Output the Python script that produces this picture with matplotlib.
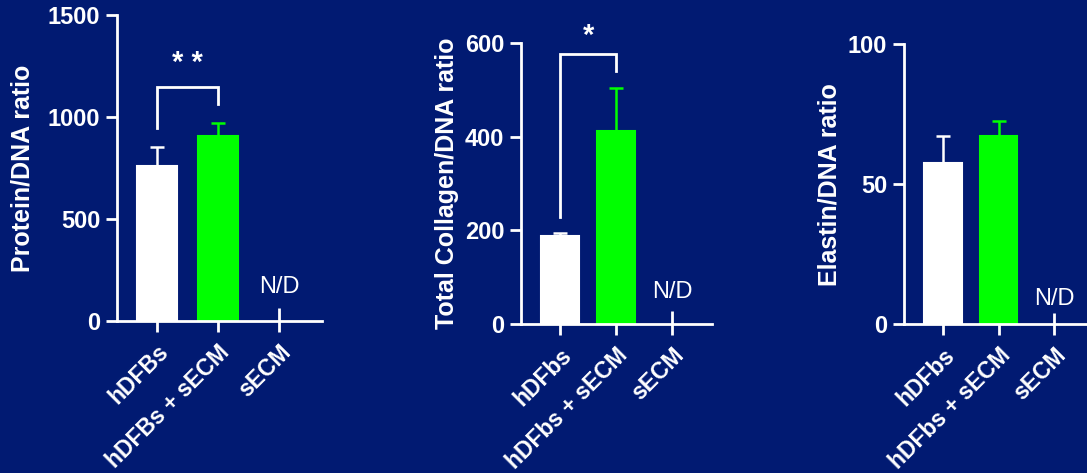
import numpy as np
import matplotlib.pyplot as plt

plt.rcParams['font.family'] = ['Liberation Sans', 'DejaVu Sans']

BG = '#011a72'
GREEN = '#00ff00'
WHITE = '#ffffff'

groups_protein = ['hDFBs', 'hDFBs + sECM', 'sECM']
groups_other = ['hDFbs', 'hDFbs + sECM', 'sECM']

protein_mean = [761, 905, 0]
protein_err = [92, 65, 64]

collagen_mean = [188, 412, 0]
collagen_err = [6, 92, 28]

elastin_mean = [57.7, 67.1, 0]
elastin_err = [9.4, 5.6, 3.9]

fig = plt.figure(figsize=(10.87, 4.73), dpi=100, facecolor=BG)

panels = [
    dict(rect=[0.1076, 0.3214, 0.1886, 0.6469], xlim=(-0.656, 2.705),
         ylim=1500, ticks=[0, 500, 1000, 1500], label='Protein/DNA ratio',
         label_x=-0.40,
         mean=protein_mean, err=protein_err, names=groups_protein,
         nd=167, sig='* *', bracket=(1146, 945, 1062), star_y=1265),
    dict(rect=[0.4793, 0.3144, 0.1757, 0.5953], xlim=(-0.696, 2.71),
         ylim=600, ticks=[0, 200, 400, 600], label='Total Collagen/DNA ratio',
         label_x=-0.325,
         mean=collagen_mean, err=collagen_err, names=groups_other,
         nd=69, sig='*', bracket=(577, 229, 540), star_y=615),
    dict(rect=[0.8316, 0.3144, 0.1684, 0.592], xlim=(-0.70, 2.59),
         ylim=100, ticks=[0, 50, 100], label='Elastin/DNA ratio',
         label_x=-0.339,
         mean=elastin_mean, err=elastin_err, names=groups_other,
         nd=8.9, sig=None, bracket=None, star_y=None),
]

x = np.arange(3)
colors = [WHITE, GREEN, WHITE]

for p in panels:
    ax = fig.add_axes(p['rect'])
    ax.set_facecolor(BG)
    ax.patch.set_alpha(0)

    # first two groups are bars, sECM was not detected
    for i in range(2):
        ax.bar(x[i], p['mean'][i], width=0.67, color=colors[i],
               edgecolor=colors[i], linewidth=1.5, zorder=2)
        ax.errorbar(x[i], p['mean'][i], yerr=[[0], [p['err'][i]]],
                    ecolor=colors[i], elinewidth=1.8, capsize=5,
                    capthick=1.8, fmt='none', zorder=3)
    ax.errorbar(x[2], p['mean'][2], yerr=[[0], [p['err'][2]]],
                ecolor=WHITE, elinewidth=2, capsize=0, fmt='none',
                zorder=3, clip_on=False)
    ax.text(x[2], p['nd'], 'N/D', color=WHITE, fontsize=17,
            ha='center', va='center')

    if p['bracket'] is not None:
        top, left_end, right_end = p['bracket']
        ax.plot([x[0], x[0], x[1], x[1]], [left_end, top, top, right_end],
                color=WHITE, lw=2, clip_on=False, solid_joinstyle='miter')
        ax.text((x[0] + x[1]) / 2, p['star_y'], p['sig'], color=WHITE,
                fontsize=21, fontweight='bold', ha='center', va='center')

    ax.set_xlim(*p['xlim'])
    ax.set_ylim(0, p['ylim'])
    ax.set_yticks(p['ticks'])
    ax.set_xticks(x)
    ax.set_xticklabels(p['names'], rotation=45, ha='right',
                       rotation_mode='anchor', fontsize=16.5,
                       fontweight='bold', color=WHITE)
    ax.tick_params(axis='y', labelsize=17, labelcolor=WHITE, colors=WHITE,
                   width=2, length=8, pad=4)
    ax.tick_params(axis='x', colors=WHITE, width=2, length=8, pad=6)
    for lab in ax.get_yticklabels():
        lab.set_fontweight('bold')

    for side in ['top', 'right']:
        ax.spines[side].set_visible(False)
    for side in ['left', 'bottom']:
        ax.spines[side].set_color(WHITE)
        ax.spines[side].set_linewidth(2)
        ax.spines[side].set_capstyle('projecting')

    ax.set_ylabel(p['label'], color=WHITE, fontsize=18, fontweight='bold')
    ax.yaxis.set_label_coords(p['label_x'], 0.5)

fig.savefig('out.png', dpi=100, facecolor=BG)
